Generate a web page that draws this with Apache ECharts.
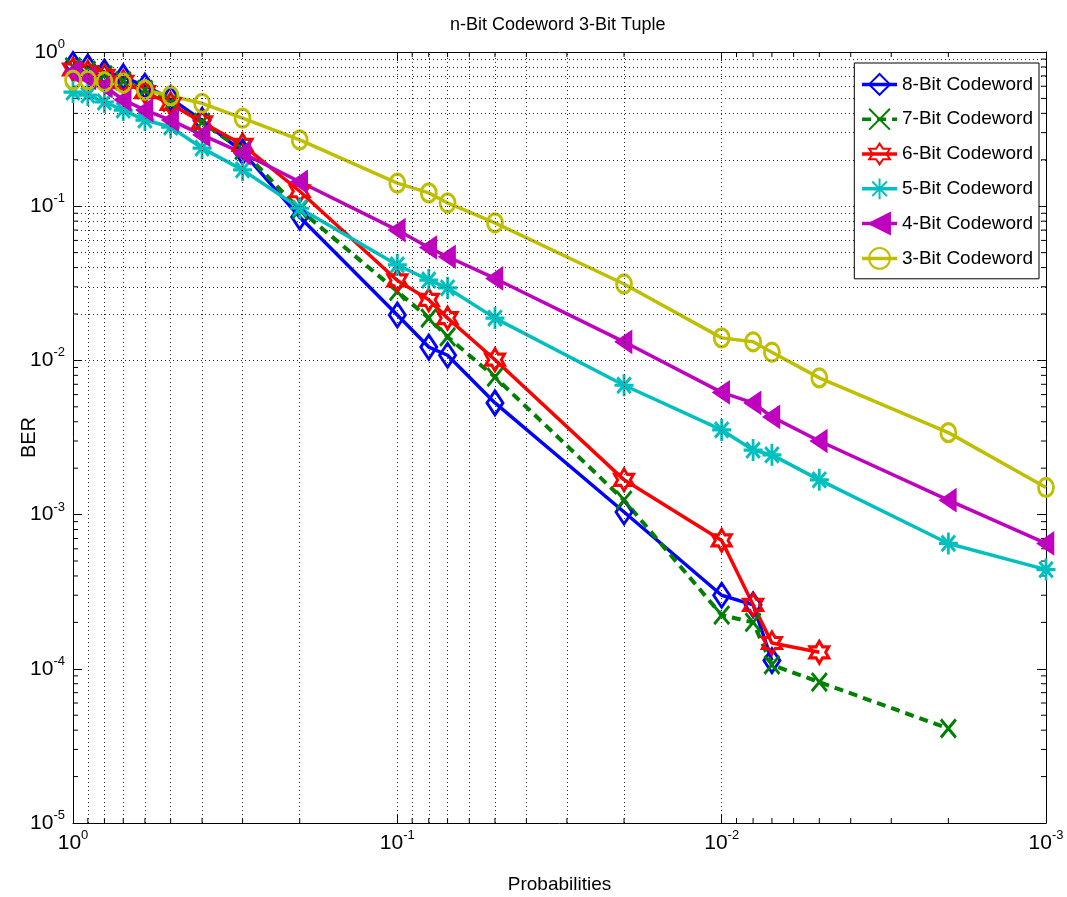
<!DOCTYPE html>
<html><head><meta charset="utf-8">
<script src="https://cdn.jsdelivr.net/npm/echarts@6/dist/echarts.min.js"></script>
<style>html,body{margin:0;padding:0;background:#fff}#c{width:1067px;height:897px}</style>
</head><body><div id="c"></div>
<script>
// ---------- data ----------
const probabilities = [1, 0.9, 0.8, 0.7, 0.6, 0.5, 0.4, 0.3, 0.2, 0.1, 0.08, 0.07, 0.05, 0.02, 0.01, 0.008, 0.007, 0.005, 0.002, 0.001];
const ber8 = [0.83, 0.80, 0.74, 0.69, 0.60, 0.50, 0.36, 0.225, 0.085, 0.0197, 0.0122, 0.0108, 0.0053, 0.00104, 0.0003, 0.00026, 0.000113];
const ber7 = [0.80, 0.76, 0.71, 0.65, 0.57, 0.47, 0.35, 0.23, 0.095, 0.028, 0.0188, 0.0142, 0.0078, 0.00124, 0.000223, 0.0002, 0.000106, 0.000082, 0.000041];
const ber6 = [0.77, 0.74, 0.70, 0.64, 0.55, 0.46, 0.35, 0.25, 0.125, 0.033, 0.0247, 0.0188, 0.0101, 0.00168, 0.00068, 0.00026, 0.000147, 0.000128];
const ber5 = [0.55, 0.526, 0.474, 0.42, 0.362, 0.326, 0.238, 0.172, 0.097, 0.0416, 0.0332, 0.0295, 0.0188, 0.0069, 0.00354, 0.00262, 0.00244, 0.00168, 0.00065, 0.00044];
const ber4 = [0.74, 0.68, 0.60, 0.49, 0.42, 0.362, 0.29, 0.221, 0.144, 0.070, 0.054, 0.047, 0.034, 0.0132, 0.0062, 0.0053, 0.0043, 0.0030, 0.00124, 0.00065];
const ber3 = [0.658, 0.658, 0.642, 0.627, 0.567, 0.519, 0.465, 0.372, 0.269, 0.141, 0.122, 0.105, 0.078, 0.0313, 0.0140, 0.0132, 0.0113, 0.0077, 0.0034, 0.0015];
const seriesNames = ['8-Bit Codeword', '7-Bit Codeword', '6-Bit Codeword', '5-Bit Codeword', '4-Bit Codeword', '3-Bit Codeword'];
const xTickExponents = ['0', '-1', '-2', '-3'];
const yTickExponents = ['0', '-1', '-2', '-3', '-4', '-5'];
const minorMultipliers = [2, 3, 4, 5, 6, 7, 8, 9];
const xDecades = [0.001, 0.01, 0.1];
const yDecades = [0.00001, 0.0001, 0.001, 0.01, 0.1];

// ---------- helpers ----------
const FONT = 'Liberation Sans, Arial, sans-serif';
const X_MIN = 0.001, X_MAX = 1, Y_MIN = 0.00001, Y_MAX = 1;
function pairs(vals) { return vals.map((v, i) => [probabilities[i], v]); }
function gridValues(decades, withMajor) {
  const out = [];
  decades.forEach((d, i) => {
    if (withMajor && i > 0) out.push(d);
    minorMultipliers.forEach(m => out.push(d * m));
  });
  return out;
}
const xGrid = gridValues(xDecades, true);
const yGrid = gridValues(yDecades, true);
const xMinor = gridValues(xDecades, false);
const yMinor = gridValues(yDecades, false);

const SYM = {
  x: 'path://M0,0L20,20M20,0L0,20',
  hex: 'path://M10,0L12.887,5L18.66,5L15.774,10L18.66,15L12.887,15L10,20L7.113,15L1.34,15L4.226,10L1.34,5L7.113,5Z',
  star: 'path://M10,0L10,20M0,10L20,10M2.93,2.93L17.07,17.07M17.07,2.93L2.93,17.07',
  left: 'path://M0,10L20,0L20,20Z'
};

const richLabel = {
  b: { fontSize: 21, fontFamily: FONT, color: '#000', lineHeight: 28 },
  s: { fontSize: 13, fontFamily: FONT, color: '#000', verticalAlign: 'top', lineHeight: 14 }
};
function xFmt(v) {
  const e = Math.round(-Math.log10(v));
  return '{b|10}{s|' + xTickExponents[e] + '}';
}
function yFmt(v) {
  const e = Math.round(-Math.log10(v));
  return '{b|10}{s|' + yTickExponents[e] + '}';
}

const dotted = { type: [1, 3], color: '#222', width: 1 };

function mkSeries(name, vals, color, symbol, size, fill, opts) {
  return Object.assign({
    name: name,
    type: 'line',
    data: pairs(vals),
    symbol: symbol,
    symbolSize: size,
    showSymbol: true,
    lineStyle: { color: color, width: 3.5 },
    itemStyle: { color: fill, borderColor: color, borderWidth: 3 },
    emphasis: { disabled: true },
    z: 3
  }, opts || {});
}

// minor ticks on all four edges, placed through the axis scales
const minorTickData = xMinor.map(v => [v, 0]).concat(yMinor.map(v => [v, 1]));
function renderMinorTick(params, api) {
  const v = api.value(0), kind = api.value(1);
  const L = 5;
  const st = { stroke: '#000', lineWidth: 1 };
  if (kind === 0) {
    const b = api.coord([v, Y_MIN]), t = api.coord([v, Y_MAX]);
    return { type: 'group', children: [
      { type: 'line', shape: { x1: b[0], y1: b[1], x2: b[0], y2: b[1] - L }, style: st },
      { type: 'line', shape: { x1: t[0], y1: t[1], x2: t[0], y2: t[1] + L }, style: st }
    ] };
  }
  const l = api.coord([X_MAX, v]), r = api.coord([X_MIN, v]);
  return { type: 'group', children: [
    { type: 'line', shape: { x1: l[0], y1: l[1], x2: l[0] + L, y2: l[1] }, style: st },
    { type: 'line', shape: { x1: r[0], y1: r[1], x2: r[0] - L, y2: r[1] }, style: st }
  ] };
}

const chart = echarts.init(document.getElementById('c'), null, { renderer: 'canvas' });
chart.setOption({
  animation: false,
  backgroundColor: '#fff',
  title: {
    text: 'n-Bit Codeword 3-Bit Tuple',
    left: 445, top: 11,
    textStyle: { fontSize: 18, fontWeight: 'normal', color: '#000', fontFamily: FONT }
  },
  grid: { left: 73, right: 21, top: 52, bottom: 74, containLabel: false, outerBoundsMode: 'none' },
  legend: {
    orient: 'vertical', right: 28, top: 63, z: 20,
    padding: [10, 6, 9, 6],
    itemWidth: 35, itemHeight: 26, itemGap: 12,
    borderColor: '#000', borderWidth: 1, backgroundColor: '#fff',
    lineStyle: { width: 3.5 },
    textStyle: { fontSize: 19, color: '#000', fontFamily: FONT },
    data: seriesNames
  },
  xAxis: [{
    type: 'log', logBase: 10, min: X_MIN, max: X_MAX, inverse: true, position: 'bottom',
    axisLine: { onZero: false, lineStyle: { color: '#000', width: 1 } },
    axisTick: { inside: true, length: 9, lineStyle: { color: '#000' } },
    axisLabel: { margin: 6, formatter: xFmt, rich: richLabel },
    splitLine: { show: false },
    name: 'Probabilities', nameLocation: 'middle', nameGap: 52, nameMoveOverlap: false,
    nameTextStyle: { fontSize: 19, color: '#000', fontFamily: FONT }
  }, {
    type: 'log', logBase: 10, min: X_MIN, max: X_MAX, inverse: true, position: 'top',
    axisLine: { onZero: false, lineStyle: { color: '#000', width: 1 } },
    axisTick: { inside: true, length: 9, lineStyle: { color: '#000' } },
    axisLabel: { show: false }, splitLine: { show: false }
  }],
  yAxis: [{
    type: 'log', logBase: 10, min: Y_MIN, max: Y_MAX, position: 'left',
    axisLine: { onZero: false, lineStyle: { color: '#000', width: 1 } },
    axisTick: { inside: true, length: 9, lineStyle: { color: '#000' } },
    axisLabel: { margin: 8, formatter: yFmt, rich: richLabel },
    splitLine: { show: false },
    name: 'BER', nameLocation: 'middle', nameGap: 34, nameMoveOverlap: false,
    nameTextStyle: { fontSize: 20, color: '#000', fontFamily: FONT }
  }, {
    type: 'log', logBase: 10, min: Y_MIN, max: Y_MAX, position: 'right',
    axisLine: { onZero: false, lineStyle: { color: '#000', width: 1 } },
    axisTick: { inside: true, length: 9, lineStyle: { color: '#000' } },
    axisLabel: { show: false }, splitLine: { show: false }
  }],
  series: [
    {
      name: '__grid', type: 'line', data: [], z: 1, silent: true,
      markLine: {
        silent: true, symbol: ['none', 'none'], animation: false,
        label: { show: false }, lineStyle: dotted, emphasis: { disabled: true },
        data: xGrid.map(v => ({ xAxis: v })).concat(yGrid.map(v => ({ yAxis: v })))
      }
    },
    {
      name: '__minor', type: 'custom', data: minorTickData, z: 2, silent: true,
      renderItem: renderMinorTick, clip: false
    },
    mkSeries(seriesNames[0], ber8, '#0000ff', 'diamond', [16, 24], 'rgba(255,255,255,0)'),
    mkSeries(seriesNames[1], ber7, '#008000', SYM.x, [15, 18], 'rgba(255,255,255,0)', { lineStyle: { color: '#008000', width: 4, type: [9, 6] } }),
    mkSeries(seriesNames[2], ber6, '#ff0000', SYM.hex, [19, 22], 'rgba(255,255,255,0)'),
    mkSeries(seriesNames[3], ber5, '#00bfbf', SYM.star, [19, 22], 'rgba(255,255,255,0)'),
    mkSeries(seriesNames[4], ber4, '#bf00bf', SYM.left, [14, 19], '#bf00bf'),
    mkSeries(seriesNames[5], ber3, '#bfbf00', 'circle', [15, 18], 'rgba(255,255,255,0)')
  ]
});
</script>
</body></html>
